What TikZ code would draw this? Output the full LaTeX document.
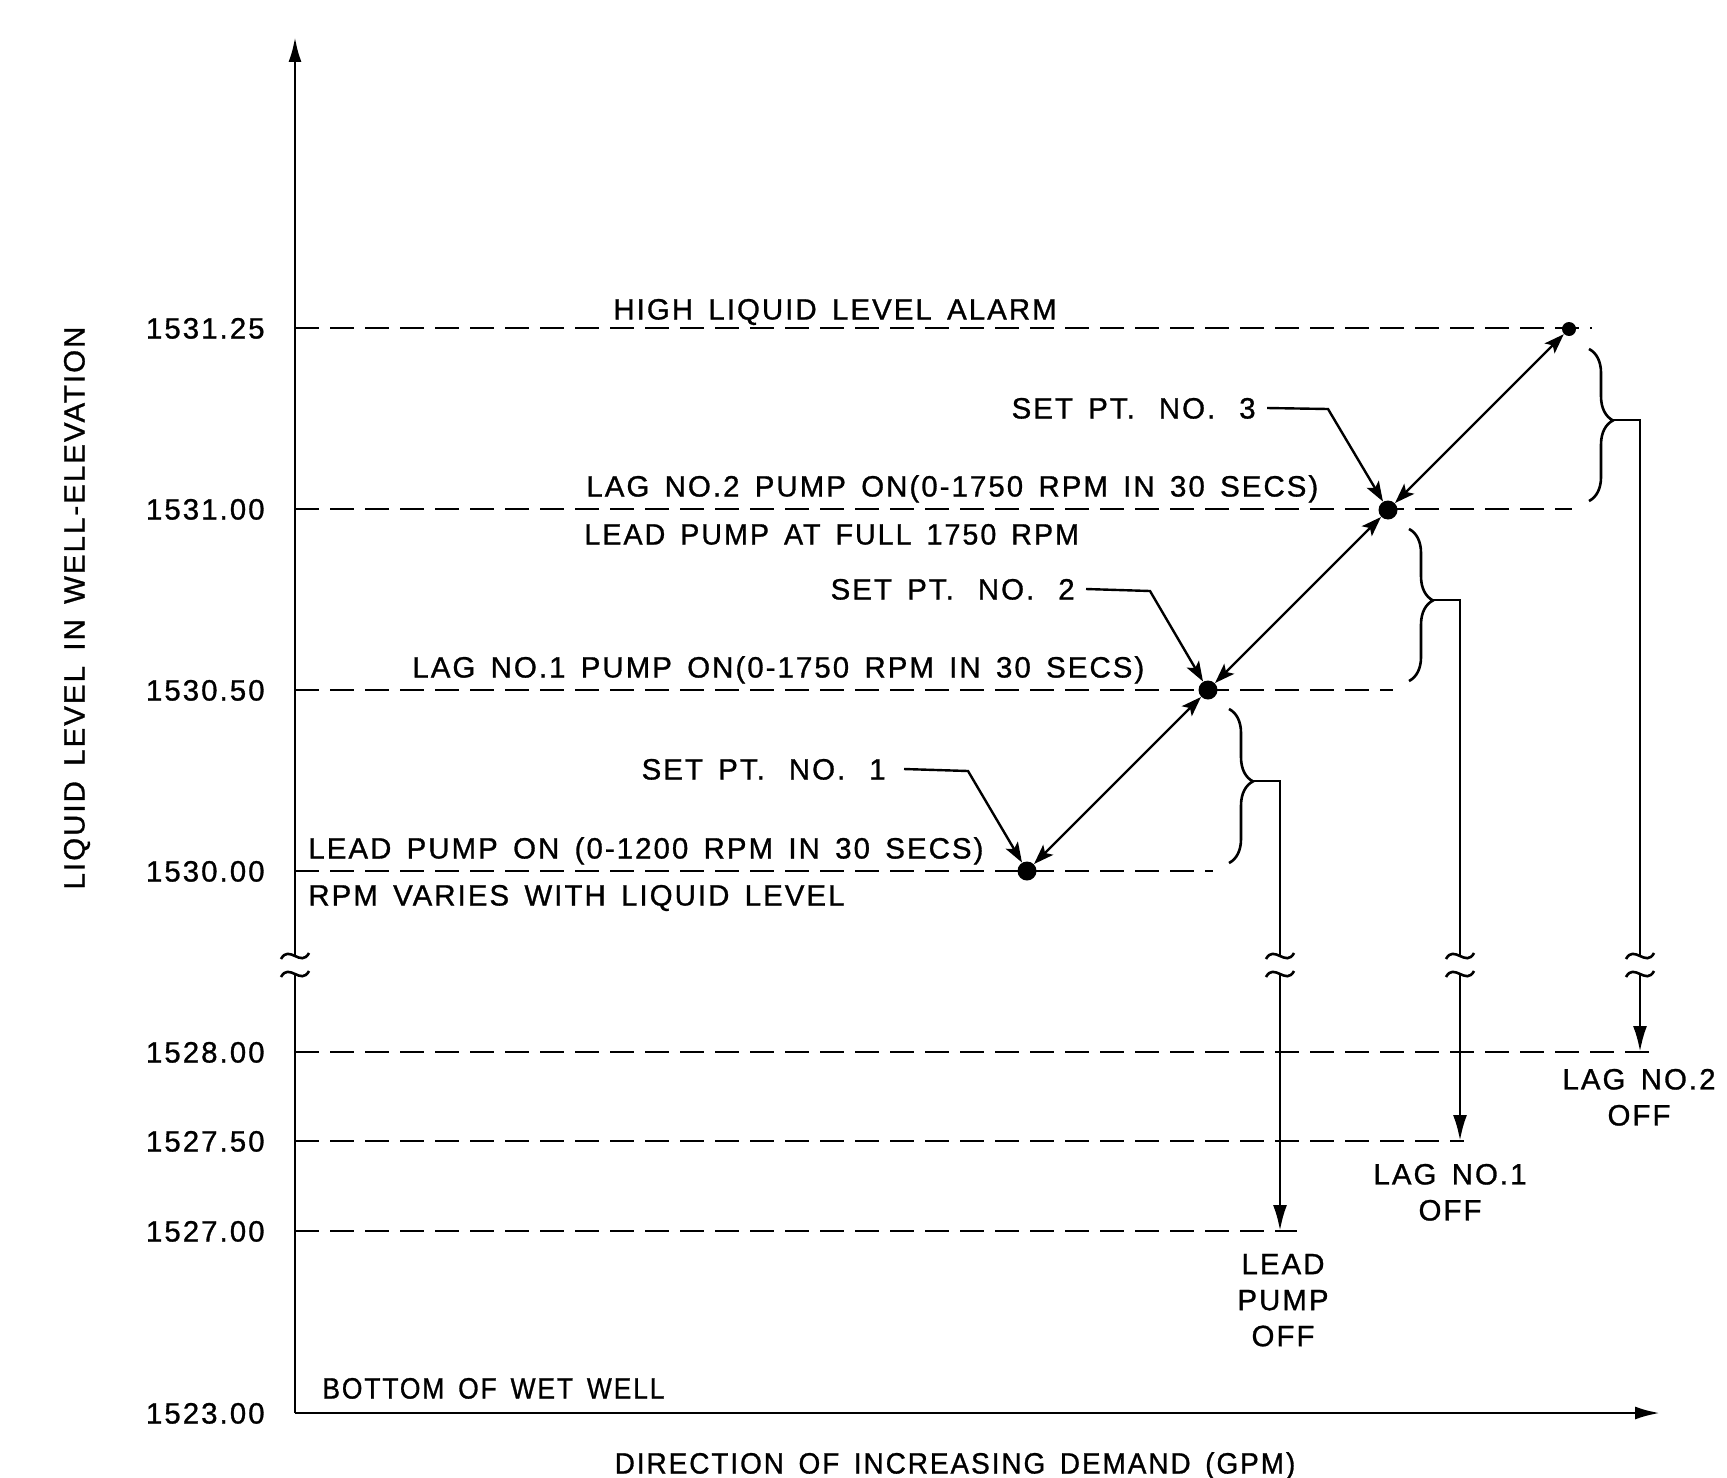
\documentclass[tikz,border=0pt]{standalone}
\usepackage{fontspec}
\setmainfont{Liberation Sans}[LetterSpace=7,WordSpace=1.5,FakeBold=1]
\usetikzlibrary{arrows.meta,decorations.pathreplacing}
\begin{document}
\begin{tikzpicture}[x=0.5pt,y=-0.5pt,
  txt/.style={font=\fontsize{14.7}{18}\selectfont, inner sep=0pt, text=black},
  ctx/.style={txt, text height=10.5pt, text depth=0pt},
  ax/.style={line width=1.45pt},
  lvl/.style={line width=1.3pt, dash pattern=on 12pt off 5.5pt},
  dia/.style={line width=1.2pt, {Stealth[length=10pt,width=7pt,inset=2.2pt]}-{Stealth[length=10pt,width=7pt,inset=2.2pt]}},
  ldr/.style={line width=1.2pt, -{Stealth[length=10pt,width=7pt,inset=2.2pt]}},
  dnarrow/.style={ax, -{Latex[length=13pt,width=7pt]}},
  dotnode/.style={circle, fill=black, inner sep=0pt, minimum size=9.5pt},
  brc/.style={line width=1.3pt, decorate, decoration={brace, amplitude=12pt, aspect=0.47}},
  brkmark/.pic={\draw[line width=1.3pt] (-14,3) .. controls (-6,-12) and (6,12) .. (14,-3);}
]
\useasboundingbox (0,0) rectangle (1727,1477);

% axes
\coordinate (O) at (295,1413);
\coordinate (ytop) at (295,37);
\coordinate (xend) at (1660,1413);
\coordinate (ybA) at (295,956);
\coordinate (ybB) at (295,974);
\draw[ax,-{Latex[length=12.5pt,width=6.5pt]}] (ybA) -- (ytop);
\draw[ax] (O) -- (ybB);
\pic at (ybA) {brkmark};
\pic at (ybB) {brkmark};
\draw[ax,-{Latex[length=12.5pt,width=6.5pt]}] (O) -- (xend);

% level lines
\coordinate (a1) at (295,328);  \coordinate (e1) at (1592,328);
\coordinate (a2) at (295,509);  \coordinate (e2) at (1572,509);
\coordinate (a3) at (295,690);  \coordinate (e3) at (1393,690);
\coordinate (a4) at (295,871);  \coordinate (e4) at (1213,871);
\coordinate (a5) at (295,1052); \coordinate (e5) at (1655,1052);
\coordinate (a6) at (295,1141); \coordinate (e6) at (1464,1141);
\coordinate (a7) at (295,1231); \coordinate (e7) at (1297,1231);
\foreach \i in {1,...,7} {\draw[lvl] (a\i) -- (e\i);}

% tick labels
\node[ctx,anchor=east] (t1) at (265,328) {1531.25};
\node[ctx,anchor=east] (t2) at (265,509) {1531.00};
\node[ctx,anchor=east] (t3) at (265,690) {1530.50};
\node[ctx,anchor=east] (t4) at (265,871) {1530.00};
\node[ctx,anchor=east] (t5) at (265,1052) {1528.00};
\node[ctx,anchor=east] (t6) at (265,1141) {1527.50};
\node[ctx,anchor=east] (t7) at (265,1231) {1527.00};
\node[ctx,anchor=east] (t8) at (265,1413) {1523.00};

% axis labels
\node[ctx,rotate=90] (ylab) at (74,608) {LIQUID LEVEL IN WELL-ELEVATION};
\node[ctx] (xlab) at (955,1463) {\scalebox{0.95}[1]{DIRECTION OF INCREASING DEMAND (GPM)}};
\node[ctx,anchor=west] (bottom) at (322,1388) {\scalebox{0.9}[1]{BOTTOM OF WET WELL}};

% level texts
\node[ctx,anchor=west] (hlla) at (613,309) {HIGH LIQUID LEVEL ALARM};
\node[ctx,anchor=west] (lag2on) at (586,486) {LAG NO.2 PUMP ON(0-1750 RPM IN 30 SECS)};
\node[ctx,anchor=west] (leadfull) at (584,534) {\scalebox{0.975}[1]{LEAD PUMP AT FULL 1750 RPM}};
\node[ctx,anchor=west] (lag1on) at (412,667) {LAG NO.1 PUMP ON(0-1750 RPM IN 30 SECS)};
\node[ctx,anchor=west] (leadon) at (308,848) {LEAD PUMP ON (0-1200 RPM IN 30 SECS)};
\node[ctx,anchor=west] (rpmvar) at (308,895) {RPM VARIES WITH LIQUID LEVEL};

% set points
\node[dotnode] (P1) at (1027,871) {};
\node[dotnode] (P2) at (1208,690) {};
\node[dotnode] (P3) at (1388,510) {};
\node[dotnode,minimum size=7pt] (P4) at (1569,329) {};
\draw[dia] (P1) -- (P2);
\draw[dia] (P2) -- (P3);
\draw[dia] (P3) -- (P4);

\node[ctx,anchor=east] (sp3) at (1256,408) {SET PT.\hspace{12pt}NO.\hspace{12pt}3};
\node[ctx,anchor=east] (sp2) at (1075,589) {SET PT.\hspace{12pt}NO.\hspace{12pt}2};
\node[ctx,anchor=east] (sp1) at (886,769) {SET PT.\hspace{12pt}NO.\hspace{12pt}1};
\coordinate (k3) at (1328,409);
\coordinate (k2) at (1150,591);
\coordinate (k1) at (968,771);
\draw[ldr] ([xshift=5.5pt]sp3.east) -- (k3) -- (P3);
\draw[ldr] ([xshift=5.5pt]sp2.east) -- (k2) -- (P2);
\draw[ldr] ([xshift=9pt]sp1.east) -- (k1) -- (P1);

% braces
\draw[brc] (1229,709) -- (1229,863);
\draw[brc] (1409,529) -- (1409,681);
\draw[brc] (1589,349) -- (1589,501);
\coordinate (b1) at (1253,781); \coordinate (c1) at (1280,781);
\coordinate (b2) at (1433,600); \coordinate (c2) at (1460,600);
\coordinate (b3) at (1613,420); \coordinate (c3) at (1640,420);

% off arrows
\coordinate (d1A) at (1280,956); \coordinate (d1B) at (1280,974); \coordinate (f1) at (1280,1231);
\coordinate (d2A) at (1460,956); \coordinate (d2B) at (1460,974); \coordinate (f2) at (1460,1141);
\coordinate (d3A) at (1640,956); \coordinate (d3B) at (1640,974); \coordinate (f3) at (1640,1052);
\draw[ax] (b1) -- (c1) -- (d1A);
\draw[ax] (b2) -- (c2) -- (d2A);
\draw[ax] (b3) -- (c3) -- (d3A);
\draw[dnarrow] (d1B) -- (f1);
\draw[dnarrow] (d2B) -- (f2);
\draw[dnarrow] (d3B) -- (f3);
\foreach \c in {d1A,d1B,d2A,d2B,d3A,d3B} {\pic at (\c) {brkmark};}

\node[txt,align=center,anchor=north] (lag2off) at (1639,1068.5) {LAG NO.2\\OFF};
\node[txt,align=center,anchor=north] (lag1off) at (1450,1163.5) {LAG NO.1\\OFF};
\node[txt,align=center,anchor=north] (leadoff) at (1283,1253.5) {LEAD\\PUMP\\OFF};
\end{tikzpicture}
\end{document}
